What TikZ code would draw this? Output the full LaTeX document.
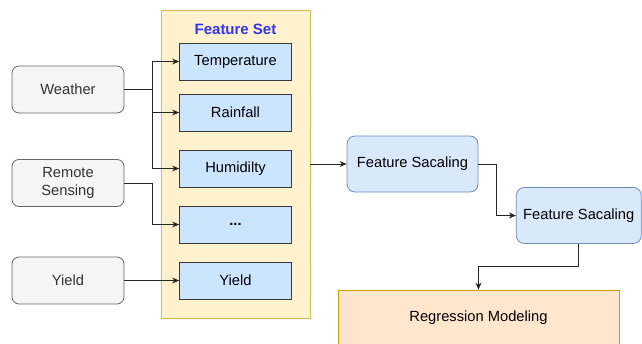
\documentclass[tikz,border=0pt]{standalone}
\usepackage{fontspec}
\setmainfont{Liberation Sans}
\usetikzlibrary{arrows.meta,positioning,calc}
\definecolor{srcfill}{HTML}{F5F5F5}
\definecolor{srcline}{HTML}{666666}
\definecolor{featfill}{HTML}{CCE5FF}
\definecolor{featline}{HTML}{36393D}
\definecolor{setfill}{HTML}{FFF2CC}
\definecolor{setline}{HTML}{D6B656}
\definecolor{scalefill}{HTML}{DAE8FC}
\definecolor{scaleline}{HTML}{6C8EBF}
\definecolor{regfill}{HTML}{FFE6CC}
\definecolor{regline}{HTML}{D79B00}
\definecolor{titleblue}{HTML}{3333FF}
\definecolor{txt}{HTML}{333333}
\begin{document}
\begin{tikzpicture}[x=1pt,y=-1pt,
  every node/.style={font=\fontsize{14.7}{18}\selectfont, text=black, inner sep=0pt, align=center},
  srcbox/.style={draw=srcline, fill=srcfill, text=txt, rounded corners=7pt, minimum width=112pt, minimum height=47pt, line width=0.8pt},
  featbox/.style={draw=featline, fill=featfill, minimum width=112pt, minimum height=37pt, line width=0.8pt},
  setbox/.style={draw=setline, fill=setfill, minimum width=149pt, minimum height=308pt, line width=0.8pt},
  scalebox/.style={draw=scaleline, fill=scalefill, rounded corners=8pt, minimum height=56pt, line width=0.8pt},
  regbox/.style={draw=regline, fill=regfill, minimum width=281pt, minimum height=60pt, line width=0.8pt},
  conn/.style={draw=black!85, line width=0.9pt},
  arr/.style={conn, -{Stealth[length=7pt,width=6pt]}}
]
\useasboundingbox (0,0) rectangle (642,343);
\node[setbox] (fset) at (235.5,164) {};
\node[font=\fontsize{15}{18}\selectfont\bfseries, text=titleblue] (title) at (235.5,29) {Feature Set};
\node[featbox] (temp) at (235.5,61.5) {Temperature};
\node[featbox] (rain) at (235.5,112.5) {Rainfall};
\node[featbox] (hum) at (235.5,168.5) {Humidilty};
\node[featbox, font=\fontsize{14.7}{18}\selectfont\bfseries] (dots) at (235.5,224.5) {...};
\node[featbox] (yieldf) at (235.5,280.5) {Yield};

\node[srcbox] (weather) at (68,89.5) {Weather};
\node[srcbox] (remote) at (68,183) {Remote\\Sensing};
\node[srcbox] (yieldsrc) at (68,280.5) {Yield};

\node[scalebox, minimum width=131pt] (fs1) at (412.5,164) {Feature Sacaling};
\node[scalebox, minimum width=125pt] (fs2) at (578.8,215.5) {Feature Sacaling};
\node[regbox] (reg) at (478.5,320) {};
\node (regtxt) at (478.5,318) {Regression Modeling};

\coordinate (wj) at (152,89.5);
\coordinate (rj) at (152,183);
\draw[conn] (weather.east) -- (wj);
\draw[arr] (wj) |- (temp.west);
\draw[arr] (wj) |- (rain.west);
\draw[arr] (wj) |- (hum.west);
\draw[arr] (remote.east) -- (rj) |- (dots.west);
\draw[arr] (yieldsrc.east) -- (yieldf.west);
\draw[arr] (fset.east |- fs1.west) -- (fs1.west);
\draw[arr] (fs1.east) -- ++(18,0) |- (fs2.west);
\draw[arr] (fs2.south) -- ++(0,23) -| (reg.north);
\end{tikzpicture}
\end{document}
